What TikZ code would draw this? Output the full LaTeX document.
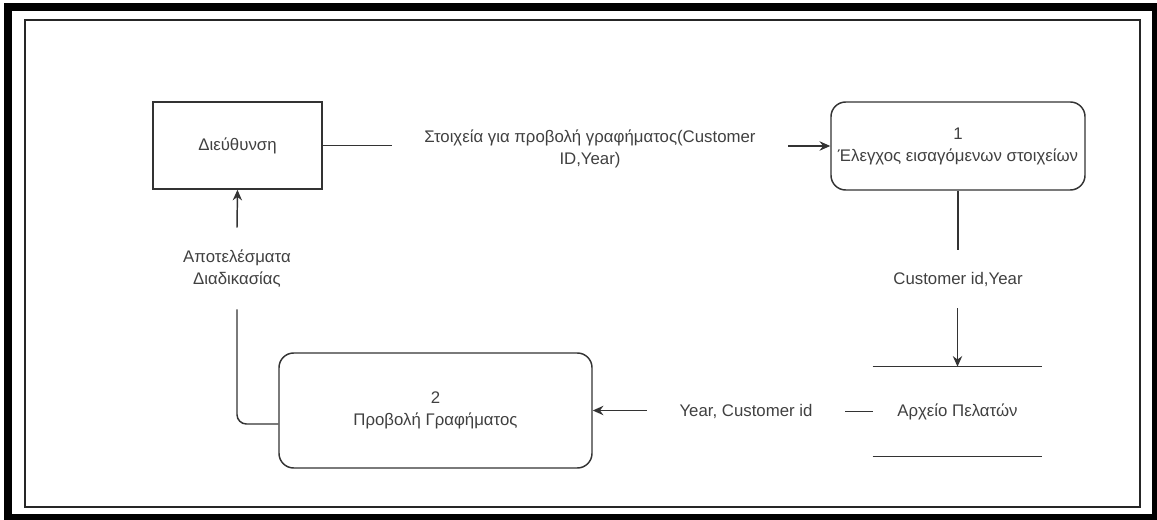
\documentclass[tikz,border=0pt]{standalone}
\usepackage{fontspec}
\setmainfont{Liberation Sans}
\usetikzlibrary{arrows.meta}
\definecolor{ink}{HTML}{333333}
\definecolor{txtc}{HTML}{404040}
\begin{document}
\begin{tikzpicture}[x=0.75pt,y=-0.75pt,
  ln/.style={draw=ink, line width=1.1pt},
  arr/.style={ln, -{Stealth[length=8pt,width=7pt]}},
  txt/.style={align=center, text=txtc, font=\fontsize{12.6}{16.5}\selectfont, inner sep=0pt},
  proc/.style={txt, draw=ink, line width=1.1pt},
  rproc/.style={proc, rounded corners=11pt},
  flow/.style={txt}
]
\useasboundingbox (0,0) rectangle (1157,520);

% page frames
\draw[line width=6pt, black] (8,7) rectangle (1156,518);
\draw[line width=1.1pt, black!85] (25,20) rectangle (1140,507);

% entities and processes
\node[proc, minimum width=126.75pt, minimum height=65.25pt] (dir) at (237.5,145.5) {Διεύθυνση};
\node[rproc, minimum width=190.5pt, minimum height=66pt] (p1) at (958,146) {1\\Έλεγχος εισαγόμενων στοιχείων};
\node[rproc, minimum width=234.75pt, minimum height=86.25pt] (p2) at (435.5,410.5) {2\\Προβολή Γραφήματος};
\node[txt, minimum width=126.75pt, minimum height=66.75pt] (store) at (957.5,411.5) {Αρχείο Πελατών};
\draw[ln] (store.north west) -- (store.north east);
\draw[ln] (store.south west) -- (store.south east);

% flow labels
\node[flow, minimum width=297pt] (f1) at (590,149) {Στοιχεία για προβολή γραφήματος(Customer\\ID,Year)};
\node[flow, minimum height=43.5pt] (f2) at (958,279) {Customer id,Year};
\node[flow, minimum width=148.5pt] (f3) at (746,411) {Year, Customer id};
\node[flow, minimum height=60.75pt] (f4) at (237,268.5) {Αποτελέσματα\\Διαδικασίας};

% data flows
\draw[ln] (dir.east) -- (dir.east -| f1.west);
\draw[arr] (p1.west -| f1.east) -- (p1.west);
\draw[ln] (p1.south) -- (p1.south |- f2.north);
\draw[arr] (store.north |- f2.south) -- (store.north);
\draw[ln] (store.west) -- (store.west -| f3.east);
\draw[arr] (p2.east -| f3.west) -- (p2.east);
\draw[ln, rounded corners=7pt] (p2.west |- 0,424) -- (f4.south |- 0,424) -- (f4.south);
\draw[arr] (f4.north) -- (dir.south);
\end{tikzpicture}
\end{document}
